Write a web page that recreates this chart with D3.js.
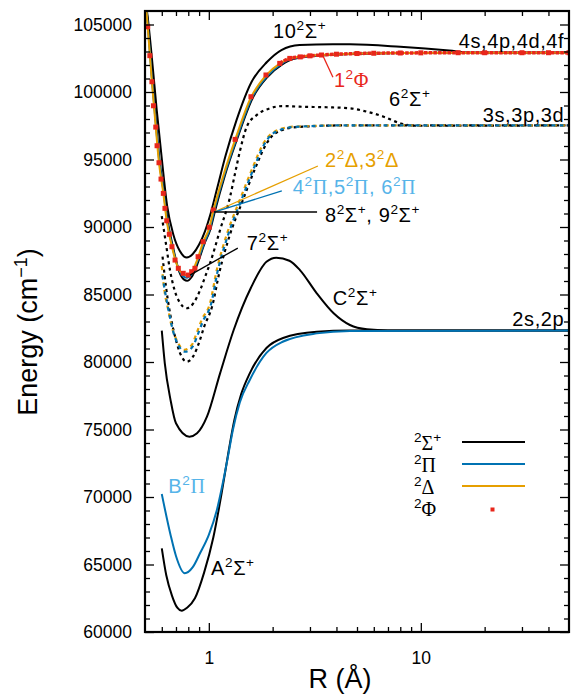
<!DOCTYPE html>
<html>
<head>
<meta charset="utf-8">
<script src="https://cdn.jsdelivr.net/npm/d3@7"></script>
<style>
    body { margin: 0; background: #fff; }
    svg { display: block; font-family: "Liberation Sans", Arial, sans-serif; }
</style>
</head>
<body>
<div class="container"></div>
<script>
const w = 571;
const h = 695;

const margin = {
    top: 11,
    right: 2,
    bottom: 63,
    left: 145
};

// axis ranges and ticks
const xDomain = [0.5, 50];
const yDomain = [60000, 106000];
const xMajorTicks = [1, 10];
const xMinorTicks = [0.6, 0.7, 0.8, 0.9, 2, 3, 4, 5, 6, 7, 8, 9, 20, 30, 40];
const yMajorTicks = [60000, 65000, 70000, 75000, 80000, 85000, 90000, 95000, 100000, 105000];
const yMinorTicks = d3.range(61000, 106000, 1000).filter(v => v % 5000 !== 0);

// potential curves, [R (Angstrom), E (cm-1)]
const A2Sigma = [[0.60, 66200], [0.63, 64200], [0.67, 62700], [0.71, 61800], [0.745, 61580], [0.79, 61800], [0.86, 62500], [0.95, 64400], [1.05, 67000], [1.15, 70300], [1.24, 73400], [1.32, 75700], [1.42, 77600], [1.56, 79160], [1.87, 81040], [2.24, 81780], [3.23, 82240], [4.63, 82330], [50, 82330]];
const B2Pi = [[0.60, 70220], [0.66, 67190], [0.70, 65630], [0.77, 64350], [0.84, 64800], [0.91, 65850], [1.0, 67200], [1.09, 69000], [1.17, 71200], [1.24, 73260], [1.30, 75000], [1.40, 77000], [1.56, 78670], [1.87, 80670], [2.23, 81500], [3.23, 82120], [4.63, 82300], [50, 82330]];
const C2Sigma = [[0.60, 82320], [0.62, 79900], [0.66, 77180], [0.70, 75460], [0.81, 74470], [0.88, 74720], [0.98, 75950], [1.13, 79160], [1.31, 82370], [1.58, 85500], [1.87, 87430], [2.08, 87730], [2.40, 87500], [2.69, 86810], [3.23, 85090], [3.88, 83610], [4.63, 82740], [5.57, 82420], [7.0, 82340], [50, 82330]];

const sigma10 = [[0.505, 106500], [0.511, 105950], [0.54, 102370], [0.568, 98660], [0.601, 94960], [0.636, 91560], [0.68, 89450], [0.73, 88220], [0.786, 87740], [0.84, 88000], [0.90, 88700], [0.96, 89700], [1.02, 91000], [1.10, 93000], [1.20, 95300], [1.35, 97900], [1.59, 100740], [1.88, 102220], [2.2, 103110], [2.68, 103480], [3.85, 103530], [4.63, 103530], [8.0, 103350], [13.6, 103070], [17.2, 102910], [50, 102910]];
const sigma7 = [[0.505, 106500], [0.518, 104830], [0.542, 100760], [0.566, 97400], [0.587, 94760], [0.616, 92490], [0.64, 90460], [0.677, 88540], [0.725, 86700], [0.765, 86100], [0.79, 86020], [0.83, 86300], [0.89, 87400], [0.95, 88700], [1.02, 89900], [1.07, 91200], [1.19, 93800], [1.355, 96450], [1.61, 99550], [1.9, 101150], [2.22, 102050], [2.5, 102450], [3.5, 102720], [8, 102890], [50, 102910]];
const pi4 = [[0.505, 106500], [0.516, 104830], [0.54, 100760], [0.564, 97400], [0.585, 94760], [0.613, 92490], [0.636, 90460], [0.673, 88540], [0.72, 86900], [0.76, 86330], [0.79, 86250], [0.83, 86500], [0.89, 87600], [0.95, 88800], [1.015, 89950], [1.06, 91200], [1.18, 93800], [1.345, 96450], [1.6, 99600], [1.89, 101200], [2.2, 102080], [2.45, 102460], [3.4, 102730], [8, 102890], [50, 102910]];
const delta2 = [[0.505, 106500], [0.515, 104830], [0.539, 100760], [0.562, 97400], [0.582, 94760], [0.61, 92490], [0.633, 90460], [0.67, 88540], [0.718, 86940], [0.757, 86520], [0.79, 86400], [0.83, 86640], [0.89, 87750], [0.94, 88880], [1.005, 89950], [1.05, 91200], [1.17, 93800], [1.33, 96450], [1.58, 99600], [1.86, 101230], [2.16, 102100], [2.41, 102480], [3.34, 102740], [8, 102890], [50, 102910]];
const phi1 = [[0.515, 104830], [0.527, 102690], [0.539, 100760], [0.548, 98980], [0.562, 97400], [0.570, 96020], [0.582, 94760], [0.595, 93550], [0.61, 92490], [0.621, 91380], [0.633, 90460], [0.651, 89460], [0.67, 88540], [0.693, 87550], [0.718, 86940], [0.757, 86570], [0.80, 86440], [0.83, 86690], [0.86, 86940], [0.89, 87800], [0.94, 88910], [1.005, 89980], [1.05, 91260], [1.33, 96490], [1.58, 99650], [1.86, 101260], [2.16, 102120], [2.41, 102490], [2.7, 102600], [3.0, 102680], [3.4, 102740], [4, 102800], [5, 102850], [6, 102870], [8, 102890], [10, 102900], [15, 102910], [20, 102910], [30, 102910], [40, 102910], [50, 102910]];

const sigma6 = [[0.6, 90810], [0.63, 88600], [0.656, 86800], [0.69, 85300], [0.73, 84400], [0.786, 83980], [0.85, 84400], [0.91, 85330], [0.96, 86300], [1.013, 87310], [1.13, 89780], [1.26, 92240], [1.33, 93980], [1.40, 95580], [1.51, 97430], [1.68, 98290], [1.94, 98790], [2.23, 98960], [2.68, 98910], [3.6, 98870], [4.63, 98790], [5.57, 98540], [6.68, 98170], [8.0, 97680], [9.6, 97500], [50, 97530]];
const delta1 = [[0.6, 87110], [0.617, 85330], [0.644, 83850], [0.669, 82610], [0.705, 81630], [0.765, 80900], [0.831, 81260], [0.875, 82120], [0.925, 83110], [1.013, 84350], [1.09, 86810], [1.22, 89530], [1.40, 92000], [1.62, 94500], [1.81, 96200], [2.01, 97000], [2.5, 97430], [4.63, 97530], [50, 97530]];
const pi2 = [[0.6, 86700], [0.625, 85000], [0.652, 83500], [0.678, 82300], [0.715, 81300], [0.775, 80760], [0.84, 81150], [0.885, 82000], [0.937, 83000], [1.025, 84300], [1.10, 86700], [1.235, 89450], [1.42, 91950], [1.64, 94450], [1.83, 96150], [2.03, 96980], [2.55, 97420], [4.63, 97530], [50, 97530]];
const sigma3 = [[0.605, 87800], [0.63, 85400], [0.66, 83400], [0.69, 82000], [0.73, 80700], [0.786, 80020], [0.85, 80500], [0.9, 81450], [0.95, 82600], [1.04, 84200], [1.12, 86600], [1.25, 89300], [1.44, 91900], [1.66, 94400], [1.86, 96100], [2.06, 96950], [2.6, 97400], [4.63, 97530], [50, 97530]];

// text labels: [R, E, anchor, color, parts]
const labels = [
    [2.01, 104000, 'start', '#000', [['10'], ['2', 'sup'], ['Σ'], ['+', 'sup']]],
    [47.5, 103235, 'end', '#000', [['4s,4p,4d,4f']]],
    [3.89, 100370, 'start', '#e8261b', [['1'], ['2', 'sup'], ['Φ', null, 'serif']]],
    [7.08, 98960, 'start', '#000', [['6'], ['2', 'sup'], ['Σ'], ['+', 'sup']]],
    [47.5, 97800, 'end', '#000', [['3s,3p,3d']]],
    [3.53, 94450, 'start', '#e69f00', [['2'], ['2', 'sup'], ['Δ'], [',3'], ['2', 'sup'], ['Δ']]],
    [2.49, 92480, 'start', '#56b4e9', [['4'], ['2', 'sup'], ['Π', null, 'serif'], [',5'], ['2', 'sup'], ['Π', null, 'serif'], [', 6'], ['2', 'sup'], ['Π', null, 'serif']]],
    [3.53, 90370, 'start', '#000', [['8'], ['2', 'sup'], ['Σ'], ['+', 'sup'], [', 9'], ['2', 'sup'], ['Σ'], ['+', 'sup']]],
    [1.51, 88290, 'start', '#000', [['7'], ['2', 'sup'], ['Σ'], ['+', 'sup']]],
    [3.84, 84220, 'start', '#000', [['C'], ['2', 'sup'], ['Σ'], ['+', 'sup']]],
    [47.5, 82670, 'end', '#000', [['2s,2p']]],
    [0.644, 70270, 'start', '#56b4e9', [['B'], ['2', 'sup'], ['Π', null, 'serif']]],
    [1.024, 64220, 'start', '#000', [['A'], ['2', 'sup'], ['Σ'], ['+', 'sup']]]
];

// pointer lines: [R1, E1, R2, E2, color]
const pointers = [
    [3.44, 102740, 3.85, 101090, '#e8261b'],
    [1.058, 91110, 3.27, 94520, '#e69f00'],
    [1.058, 91110, 2.21, 92670, '#0072b2'],
    [1.058, 91110, 3.24, 91110, '#000'],
    [0.815, 86440, 1.37, 88440, '#000']
];

const SVG = d3.select('.container')
    .append('svg')
    .attr('width', w)
    .attr('height', h);

const x = d3.scaleLog().domain(xDomain).range([margin.left, w - margin.right]);
const y = d3.scaleLinear().domain(yDomain).range([h - margin.bottom, margin.top]);

SVG.append('clipPath')
    .attr('id', 'plotClip')
    .append('rect')
    .attr('x', margin.left)
    .attr('y', margin.top)
    .attr('width', w - margin.right - margin.left)
    .attr('height', h - margin.bottom - margin.top);

const plot = SVG.append('g').attr('clip-path', 'url(#plotClip)');

const line = d3.line()
    .x(d => x(d[0]))
    .y(d => y(d[1]))
    .curve(d3.curveMonotoneX);

const curves = [
    [sigma6, '#000', 2.2, '3,3.5', 0],
    [sigma3, '#000', 2.2, '3,3.5', 0],
    [delta1, '#e69f00', 2.2, '4,4', 0],
    [pi2, '#0072b2', 2.2, '4,4', 4],
    [A2Sigma, '#000', 2, null, 0],
    [C2Sigma, '#000', 2, null, 0],
    [B2Pi, '#0072b2', 2, null, 0],
    [sigma10, '#000', 2, null, 0],
    [sigma7, '#000', 2, null, 0],
    [pi4, '#0072b2', 2, null, 0],
    [delta2, '#e69f00', 2, null, 0]
];

curves.forEach(c => {
    plot.append('path')
        .datum(c[0])
        .attr('d', line)
        .attr('fill', 'none')
        .attr('stroke', c[1])
        .attr('stroke-width', c[2])
        .attr('stroke-dasharray', c[3])
        .attr('stroke-dashoffset', c[4]);
});

// 1 2Phi: square markers, so dense at long range they read as a band
plot.append('path')
    .datum(phi1.filter(d => d[0] >= 2.16))
    .attr('d', line)
    .attr('fill', 'none')
    .attr('stroke', '#e8261b')
    .attr('stroke-width', 3.5)
    .attr('stroke-dasharray', '3.5,1.2');

plot.selectAll('rect.phi')
    .data(phi1)
    .join('rect')
    .attr('class', 'phi')
    .attr('x', d => x(d[0]) - 2.5)
    .attr('y', d => y(d[1]) - 2.5)
    .attr('width', 5)
    .attr('height', 5)
    .attr('fill', '#e8261b');

// axes, ticks pointing inwards on all four sides
const frame = SVG.append('g');
const innerH = h - margin.bottom - margin.top;
const innerW = w - margin.right - margin.left;

frame.append('g')
    .attr('transform', `translate(0, ${h - margin.bottom})`)
    .call(d3.axisBottom(x).tickValues(xMinorTicks).tickSize(-5).tickFormat(''));
frame.append('g')
    .attr('transform', `translate(0, ${h - margin.bottom})`)
    .call(d3.axisBottom(x).tickValues(xMajorTicks).tickSize(-9).tickPadding(20).tickFormat(d3.format('d')));
frame.append('g')
    .attr('transform', `translate(0, ${margin.top})`)
    .call(d3.axisTop(x).tickValues(xMinorTicks).tickSize(-5).tickFormat(''));
frame.append('g')
    .attr('transform', `translate(0, ${margin.top})`)
    .call(d3.axisTop(x).tickValues(xMajorTicks).tickSize(-9).tickFormat(''));

frame.append('g')
    .attr('transform', `translate(${margin.left}, 0)`)
    .call(d3.axisLeft(y).tickValues(yMinorTicks).tickSize(-5).tickFormat(''));
frame.append('g')
    .attr('transform', `translate(${margin.left}, 0)`)
    .call(d3.axisLeft(y).tickValues(yMajorTicks).tickSize(-9).tickPadding(13).tickFormat(d3.format('d')));
frame.append('g')
    .attr('transform', `translate(${w - margin.right}, 0)`)
    .call(d3.axisRight(y).tickValues(yMinorTicks).tickSize(-5).tickFormat(''));
frame.append('g')
    .attr('transform', `translate(${w - margin.right}, 0)`)
    .call(d3.axisRight(y).tickValues(yMajorTicks).tickSize(-9).tickFormat(''));

frame.selectAll('.domain').remove();
frame.selectAll('.tick line').attr('stroke', '#000').attr('stroke-width', 1.3);
frame.selectAll('.tick text')
    .attr('fill', '#000')
    .style('font-size', '17.5px')
    .style('font-family', '"Liberation Sans", Arial, sans-serif');

frame.append('rect')
    .attr('x', margin.left)
    .attr('y', margin.top)
    .attr('width', innerW)
    .attr('height', innerH)
    .attr('fill', 'none')
    .attr('stroke', '#000')
    .attr('stroke-width', 2.2);

// label with super-scripts
function richText(g, px, py, parts, color, size, anchor) {
    const t = g.append('text')
        .attr('x', px)
        .attr('y', py)
        .attr('fill', color)
        .attr('text-anchor', anchor)
        .style('font-size', size + 'px');
    let shift = 0;
    parts.forEach(p => {
        const s = p[1] === 'sup' ? -0.4 * size : 0;
        const ts = t.append('tspan')
            .attr('dy', s - shift)
            .text(p[0]);
        if (p[1] === 'sup') ts.style('font-size', (size * 0.68) + 'px');
        if (p[2] === 'serif') ts.style('font-family', '"Liberation Serif", "DejaVu Serif", serif');
        shift = s;
    });
    return t;
}

const annot = SVG.append('g');

pointers.forEach(p => {
    annot.append('line')
        .attr('x1', x(p[0]))
        .attr('y1', y(p[1]))
        .attr('x2', x(p[2]))
        .attr('y2', y(p[3]))
        .attr('stroke', p[4])
        .attr('stroke-width', 1.3);
});

labels.forEach(l => {
    richText(annot, x(l[0]), y(l[1]), l[4], l[3], 20, l[2])
        .style('letter-spacing', '0.6px');
});

// legend
const legendItems = [
    ['Σ', '#000', 'line'],
    ['Π', '#0072b2', 'line'],
    ['Δ', '#e69f00', 'line'],
    ['Φ', '#e8261b', 'dot']
];

const legend = SVG.append('g').attr('transform', 'translate(414, 450)');
legendItems.forEach((item, i) => {
    const g = legend.append('g').attr('transform', `translate(0, ${i * 22})`);
    const parts = [['2', 'sup'], [item[0], null, 'serif']];
    if (item[0] === 'Σ') parts.push(['+', 'sup']);
    richText(g, 0, 0, parts, '#000', 20, 'start');
    if (item[2] === 'line') {
        g.append('line')
            .attr('x1', 48)
            .attr('x2', 111)
            .attr('y1', -8)
            .attr('y2', -8)
            .attr('stroke', item[1])
            .attr('stroke-width', 2.2);
    } else {
        g.append('rect')
            .attr('x', 76.5)
            .attr('y', -8.5)
            .attr('width', 4)
            .attr('height', 4)
            .attr('fill', item[1]);
    }
});

// axis titles
SVG.append('text')
    .attr('x', 340)
    .attr('y', 688)
    .attr('text-anchor', 'middle')
    .style('font-size', '27px')
    .text('R (Å)');

const yTitle = SVG.append('text')
    .attr('transform', 'translate(37, 332) rotate(-90)')
    .attr('text-anchor', 'middle')
    .style('font-size', '27px');
yTitle.append('tspan').text('Energy (cm');
yTitle.append('tspan').attr('dy', -10).style('font-size', '18px').text('−1');
yTitle.append('tspan').attr('dy', 10).text(')');
</script>
</body>
</html>
